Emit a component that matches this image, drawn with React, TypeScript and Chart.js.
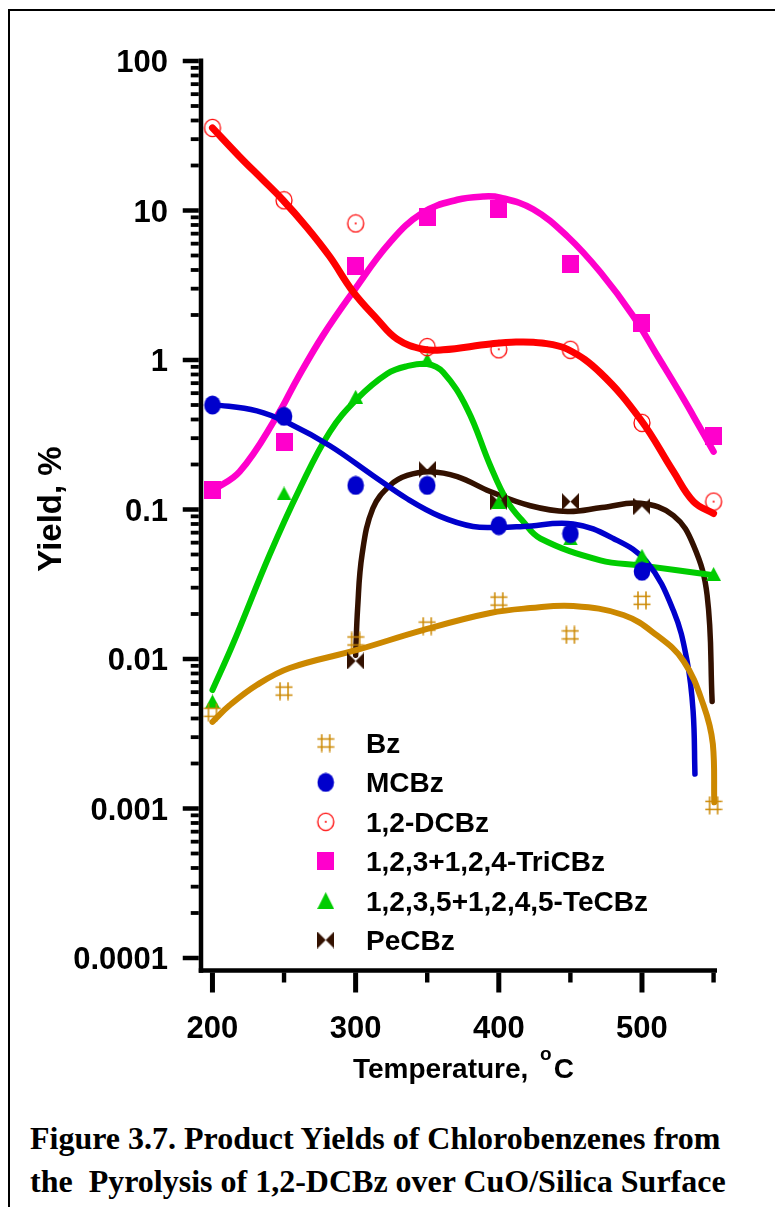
import React, { useEffect, useRef } from "react";
import { Chart, registerables } from "chart.js";

Chart.register(...registerables);

// Measured temperatures (°C)
const TEMPS = [200, 250, 300, 350, 400, 450, 500, 550];

// Measured yields (%), null where no point was recorded
const BZ = [0.0044, 0.0061, 0.0132, 0.0166, 0.0244, 0.0145, 0.0247, 0.00105];
const MCBZ = [0.5, 0.42, 0.145, 0.145, 0.078, 0.069, 0.0386, null];
const DCBZ = [35.7, 11.7, 8.2, 1.22, 1.18, 1.17, 0.38, 0.113];
const TRICBZ = [0.134, 0.284, 4.24, 9.0, 10.3, 4.37, 1.78, 0.31];
const TECBZ = [0.0052, 0.128, 0.567, 1.0, 0.112, 0.064, 0.049, 0.037];
const PECBZ = [null, null, 0.0097, 0.185, 0.113, 0.113, 0.105, null];

// Smoothed trend curves (temperature, yield)
const BZ_FIT_T = [200, 212, 231, 254, 301, 347, 394, 422, 452, 487, 510, 529, 543, 549.5, 550.5];
const BZ_FIT_Y = [0.0038, 0.0049, 0.0067, 0.0087, 0.0115, 0.0156, 0.0203, 0.0219, 0.0226, 0.0197, 0.0145, 0.0097, 0.0049, 0.0027, 0.0011];

const MCBZ_FIT_T = [200, 231, 254, 282, 312, 336, 359, 382, 401, 417, 452, 480, 503, 522, 531.5, 535.7, 537];
const MCBZ_FIT_Y = [0.505, 0.457, 0.375, 0.267, 0.169, 0.118, 0.09, 0.077, 0.076, 0.077, 0.08, 0.064, 0.045, 0.021, 0.0097, 0.0045, 0.0017];

const DCBZ_FIT_T = [200, 219, 235, 249, 266, 282, 298, 315, 329, 347, 361, 394, 412, 430, 448, 471, 499, 522, 536, 550];
const DCBZ_FIT_Y = [35.7, 22.9, 16.1, 11.8, 7.7, 4.9, 2.88, 1.88, 1.38, 1.18, 1.17, 1.28, 1.32, 1.3, 1.18, 0.82, 0.4, 0.179, 0.113, 0.094];

const TRICBZ_FIT_T = [200, 219, 245, 259, 277, 298, 324, 347, 371, 389, 401, 424, 448, 471, 494, 511, 529, 536, 550];
const TRICBZ_FIT_Y = [0.134, 0.179, 0.42, 0.74, 1.45, 2.84, 6.12, 9.7, 11.8, 12.4, 12.2, 10.2, 6.7, 3.86, 1.96, 1.06, 0.55, 0.42, 0.244];

const TECBZ_FIT_T = [200, 214, 240, 261, 282, 301, 322, 336, 350, 361, 378, 394, 406, 417, 429, 471, 499, 550];
const TECBZ_FIT_Y = [0.0062, 0.0124, 0.05, 0.138, 0.331, 0.55, 0.81, 0.91, 0.94, 0.83, 0.47, 0.197, 0.113, 0.083, 0.064, 0.0457, 0.0423, 0.0363];

const PECBZ_FIT_T = [300, 301.4, 304.5, 312, 324, 336, 352, 371, 394, 422, 448, 472, 499, 522, 536, 545.5, 549];
const PECBZ_FIT_Y = [0.0106, 0.0219, 0.05, 0.1016, 0.145, 0.169, 0.179, 0.166, 0.132, 0.106, 0.097, 0.103, 0.11, 0.091, 0.0575, 0.0267, 0.0052];

// Axis ticks
const Y_TICK_VALUES = [100, 10, 1, 0.1, 0.01, 0.001, 0.0001];
const Y_TICK_LABELS = ["100", "10", "1", "0.1", "0.01", "0.001", "0.0001"];
const X_MAJOR = [200, 300, 400, 500];
const X_MINOR = [250, 350, 450, 550];

const SANS = '"Liberation Sans", Arial, Helvetica, sans-serif';

type Kind = "hash" | "dot" | "ring" | "square" | "triangle" | "bowtie";

const SERIES: {
  label: string;
  kind: Kind;
  color: string;
  values: (number | null)[];
  fitT: number[];
  fitY: number[];
  width: number;
}[] = [
  { label: "Bz", kind: "hash", color: "#CC8800", values: BZ, fitT: BZ_FIT_T, fitY: BZ_FIT_Y, width: 6 },
  { label: "MCBz", kind: "dot", color: "#0000CC", values: MCBZ, fitT: MCBZ_FIT_T, fitY: MCBZ_FIT_Y, width: 5.5 },
  { label: "1,2-DCBz", kind: "ring", color: "#FF0000", values: DCBZ, fitT: DCBZ_FIT_T, fitY: DCBZ_FIT_Y, width: 7 },
  { label: "1,2,3+1,2,4-TriCBz", kind: "square", color: "#FF00CC", values: TRICBZ, fitT: TRICBZ_FIT_T, fitY: TRICBZ_FIT_Y, width: 6.5 },
  { label: "1,2,3,5+1,2,4,5-TeCBz", kind: "triangle", color: "#00CC00", values: TECBZ, fitT: TECBZ_FIT_T, fitY: TECBZ_FIT_Y, width: 6 },
  { label: "PeCBz", kind: "bowtie", color: "#331100", values: PECBZ, fitT: PECBZ_FIT_T, fitY: PECBZ_FIT_Y, width: 5.5 },
];

// Small canvases used as point styles for the symbols
function makeMarker(kind: Kind, color: string, legend: boolean): HTMLCanvasElement {
  const c = document.createElement("canvas");
  const g = c.getContext("2d")!;
  const size = (w: number, h: number) => {
    c.width = w;
    c.height = h;
  };
  switch (kind) {
    case "hash": {
      size(18, 19);
      g.strokeStyle = color;
      g.lineWidth = 1.5;
      g.beginPath();
      g.moveTo(5, 0.5); g.lineTo(5, 18.5);
      g.moveTo(13, 0.5); g.lineTo(13, 18.5);
      g.moveTo(0.5, 5.5); g.lineTo(17.5, 5.5);
      g.moveTo(0.5, 13.5); g.lineTo(17.5, 13.5);
      g.stroke();
      break;
    }
    case "dot": {
      size(18, 20);
      g.fillStyle = color;
      g.beginPath();
      g.ellipse(9, 10, 8.3, 9.5, 0, 0, Math.PI * 2);
      g.fill();
      break;
    }
    case "ring": {
      size(20, 20);
      g.strokeStyle = color;
      g.lineWidth = 1.3;
      g.beginPath();
      g.ellipse(10, 10, 8, 8.6, 0, 0, Math.PI * 2);
      g.stroke();
      g.fillStyle = color;
      g.beginPath();
      g.arc(10, 10, 1, 0, Math.PI * 2);
      g.fill();
      break;
    }
    case "square": {
      size(17, 18);
      g.fillStyle = color;
      g.fillRect(0, 0, 17, 18);
      break;
    }
    case "triangle": {
      const w = legend ? 17 : 15;
      const h = legend ? 17 : 14;
      size(w, h);
      g.fillStyle = color;
      g.beginPath();
      g.moveTo(w / 2, 0);
      g.lineTo(w, h);
      g.lineTo(0, h);
      g.closePath();
      g.fill();
      break;
    }
    case "bowtie": {
      size(17, 17);
      g.fillStyle = color;
      g.beginPath();
      g.moveTo(0, 0); g.lineTo(8.5, 8.5); g.lineTo(0, 17); g.closePath();
      g.moveTo(17, 0); g.lineTo(8.5, 8.5); g.lineTo(17, 17); g.closePath();
      g.fill();
      break;
    }
  }
  return c;
}

export default function App() {
  const ref = useRef<HTMLCanvasElement | null>(null);

  useEffect(() => {
    const canvas = ref.current;
    if (!canvas) return;

    const plotMarkers = SERIES.map((s) => makeMarker(s.kind, s.color, false));
    const legendMarkers = SERIES.map((s) => makeMarker(s.kind, s.color, true));

    const pointSets = SERIES.map((s, i) => ({
      label: s.label,
      data: TEMPS.map((t, j) => (s.values[j] == null ? null : { x: t, y: s.values[j] as number })).filter(
        (p) => p !== null
      ),
      showLine: false,
      pointStyle: plotMarkers[i],
      pointRadius: 6,
      pointHoverRadius: 6,
      order: 0,
      clip: false,
    }));

    const curveSets = SERIES.map((s) => ({
      label: s.label + " fit",
      data: s.fitT.map((t, j) => ({ x: t, y: s.fitY[j] })),
      showLine: true,
      borderColor: s.color,
      borderWidth: s.width,
      borderCapStyle: "round",
      borderJoinStyle: "round",
      tension: 0.4,
      pointRadius: 0,
      pointHoverRadius: 0,
      order: 1,
      clip: false,
    }));

    const figureAxes = {
      id: "figureAxes",
      afterDraw(chart: any) {
        const { ctx, chartArea: a } = chart;
        const xs = chart.scales.x;
        const ys = chart.scales.y;
        const xAxisY = a.bottom + 12.5;
        ctx.save();
        ctx.fillStyle = "#000";

        // axis lines (the x axis sits slightly below the lowest decade)
        ctx.fillRect(a.left - 2.25, a.top - 2.5, 4.5, xAxisY + 2.25 - (a.top - 2.5));
        ctx.fillRect(a.left - 2.25, xAxisY - 2.25, a.right + 2 - (a.left - 2.25), 4.5);

        // y ticks: decades plus 2..9 minor ticks
        for (let e = -4; e <= 2; e++) {
          for (let m = 1; m <= 9; m++) {
            const v = m * Math.pow(10, e);
            if (v > 100.0001) break;
            const py = ys.getPixelForValue(v);
            const major = m === 1;
            const len = major ? 16 : 8;
            const w = major ? 4.5 : 3.8;
            ctx.fillRect(a.left - 2.25 - len, py - w / 2, len, w);
          }
        }

        // x ticks
        X_MAJOR.forEach((t) => {
          const px = xs.getPixelForValue(t);
          ctx.fillRect(px - 2.5, xAxisY + 2, 5, 20);
        });
        X_MINOR.forEach((t) => {
          const px = xs.getPixelForValue(t);
          ctx.fillRect(px - 2.2, xAxisY + 2, 4.4, 10);
        });

        // tick labels
        ctx.textBaseline = "alphabetic";
        ctx.font = `700 31px ${SANS}`;
        ctx.textAlign = "right";
        Y_TICK_VALUES.forEach((v, i) => {
          ctx.fillText(Y_TICK_LABELS[i], a.left - 33, ys.getPixelForValue(v) + 11);
        });
        ctx.textAlign = "center";
        X_MAJOR.forEach((t) => {
          ctx.fillText(String(t), xs.getPixelForValue(t), a.bottom + 80);
        });

        // x axis title with raised degree sign
        ctx.textAlign = "left";
        const tx = a.left + 152;
        const tb = a.bottom + 120;
        ctx.font = `700 28px ${SANS}`;
        ctx.fillText("Temperature,", tx, tb);
        const w1 = ctx.measureText("Temperature, ").width;
        const ox = tx + w1 + 4;
        ctx.font = `700 19px ${SANS}`;
        ctx.fillText("o", ox, tb - 18);
        const ow = ctx.measureText("o").width;
        ctx.font = `700 28px ${SANS}`;
        ctx.fillText("C", ox + ow + 2, tb);

        // y axis title
        ctx.save();
        ctx.translate(53, a.top + 448);
        ctx.rotate(-Math.PI / 2);
        ctx.font = `700 33px ${SANS}`;
        ctx.textAlign = "center";
        ctx.fillText("Yield, %", 0, 0);
        ctx.restore();

        // legend
        ctx.font = `700 28px ${SANS}`;
        ctx.textAlign = "left";
        SERIES.forEach((s, i) => {
          const base = a.top + 692 + 39.4 * i;
          const m = legendMarkers[i];
          ctx.drawImage(m, 317.7 - m.width / 2, base - 10 - m.height / 2);
          ctx.fillText(s.label, 358, base);
        });

        ctx.restore();
      },
    };

    const chart = new Chart(canvas, {
      type: "scatter",
      data: { datasets: [...pointSets, ...curveSets] as any },
      options: {
        responsive: false,
        animation: false,
        events: [],
        layout: { padding: { left: 193, right: 60, top: 53, bottom: 140 } },
        plugins: { legend: { display: false }, tooltip: { enabled: false }, title: { display: false } },
        scales: {
          x: { type: "linear", min: 192, max: 551, display: false },
          y: { type: "logarithmic", min: 0.0001, max: 100, display: false },
        },
      },
      plugins: [figureAxes],
    });

    return () => chart.destroy();
  }, []);

  return (
    <div style={{ position: "relative", width: 767, height: 1199, overflow: "hidden", background: "#fff" }}>
      <div
        style={{
          position: "absolute",
          left: 0,
          top: 1,
          width: 900,
          height: 1400,
          border: "2px solid #000",
          boxSizing: "border-box",
        }}
      />
      <canvas
        ref={ref}
        width={767}
        height={1090}
        style={{ position: "absolute", left: 0, top: 0, width: 767, height: 1090 }}
      />
      <div
        style={{
          position: "absolute",
          left: 22,
          top: 1108.7,
          margin: 0,
          font: 'bold 32px "Liberation Serif", "Times New Roman", serif',
          lineHeight: "43px",
          whiteSpace: "pre",
          color: "#000",
        }}
      >
        {"Figure 3.7. Product Yields of Chlorobenzenes from\nthe  Pyrolysis of 1,2-DCBz over CuO/Silica Surface"}
      </div>
    </div>
  );
}
